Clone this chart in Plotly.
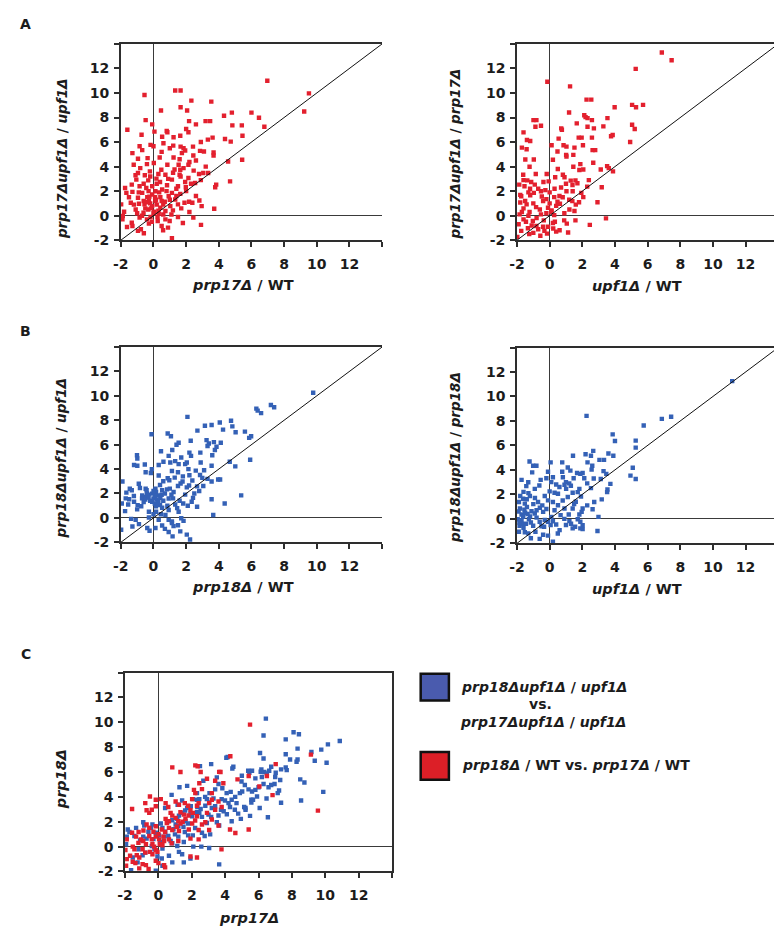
import plotly.graph_objects as go

W, H = 774, 936

# ---------------- data ----------------
# Panel A-left: prp17Δ/WT (x) vs prp17Δupf1Δ/upf1Δ (y)
a1_points = [
(6.97,11.0),(1.33,10.2),(1.66,10.2),(-0.55,9.84),(2.32,9.38),(3.54,9.3),(0.46,8.57),(1.66,8.84),(2.06,8.57),(4.8,8.4),
(6.0,8.4),(4.32,8.14),(6.46,7.98),(-0.48,7.79),(2.18,7.71),(3.19,7.71),(3.47,7.71),(2.6,7.44),(4.83,7.36),(5.41,7.36),
(6.79,7.25),(-0.08,7.44),(-1.6,7.0),(2.0,7.06),(0.81,6.9),(0.85,6.8),(0.06,6.85),(2.14,6.8),(-0.73,6.6),(1.64,6.52),
(5.45,6.52),(1.23,6.39),(0.53,6.44),(3.62,6.36),(4.38,6.25),(4.73,6.04),(3.33,6.2),(0.61,5.9),(-0.18,5.77),(0.0,5.66),
(-0.85,5.66),(1.66,5.63),(1.84,5.5),(2.42,5.63),(1.21,5.71),(-0.69,5.34),(2.85,5.28),(3.09,5.23),(3.68,5.15),(3.68,4.9),
(1.94,5.31),(1.74,5.1),(-1.29,5.1),(0.38,4.74),(1.23,4.74),(2.44,4.9),(-0.36,4.69),(-0.95,4.64),(0.02,4.29),(2.2,4.37),
(4.57,4.42),(5.43,4.56),(0.85,4.15),(1.54,4.15),(1.84,3.88),(2.14,4.15),(-1.21,4.15),(-0.81,3.88),(1.29,3.77),(1.64,3.75),
(2.46,3.67),(0.48,3.75),(-0.22,3.61),(3.05,3.48),(3.35,3.48),(2.79,3.4),(-0.95,3.48),(-0.53,3.29),(0.73,3.34),(1.66,3.2),
(1.6,3.34),(1.13,2.94),(2.14,3.07),(0.18,3.02),(-1.05,2.94),(0.4,2.75),(1.94,2.75),(2.55,2.67),(-0.32,2.88),(-1.33,2.53),
(3.84,2.53),(3.78,2.32),(4.69,2.8),(-0.85,2.4),(0.83,2.48),(1.5,2.4),(1.98,2.32),(-0.44,2.26),(-0.08,2.4),(-1.74,2.26),
(0.53,2.13),(0.12,1.99),(-1.29,1.94),(1.13,1.86),(1.64,1.78),(-0.69,1.86),(-0.08,1.73),(-1.66,1.86),(0.93,1.59),(0.42,1.51),
(-0.38,1.51),(-0.95,1.46),(1.33,1.32),(-0.28,1.24),(0.12,1.19),(0.69,1.13),(1.9,1.05),(2.18,1.13),(2.38,1.05),(2.81,1.24),
(-1.39,1.05),(-1.98,0.92),(-0.89,0.97),(-0.55,0.92),(-0.08,0.78),(1.03,0.78),(2.95,0.78),(1.5,0.92),(0.42,0.65),(-0.32,0.51),
(-1.09,0.51),(3.72,0.57),(0.73,0.38),(1.19,0.43),(0.04,0.32),(-1.8,0.32),(-0.61,0.24),(0.32,0.16),(-1.88,-0.03),(-1.9,-0.3),
(-0.18,-0.11),(1.5,-0.11),(2.44,-0.16),(-0.85,-0.16),(0.73,-0.3),(0.26,-0.43),(-1.33,-0.57),(-0.28,-0.65),(0.99,-0.43),(-1.62,-0.92),
(0.5,-0.84),(-0.77,-1.1),(2.91,-0.75),(0.89,-0.97),(-0.95,-1.24),(-1.29,-0.84),(-0.59,-1.43),(0.59,-1.19),(1.13,-1.83),(9.52,9.97),
(9.23,8.49),(-0.2,1.0),(0.2,0.9),(-0.5,0.6),(0.1,1.5),(-0.3,2.0),(0.3,0.4),(-0.6,1.2),(0.0,0.2),(-0.1,-0.5),
(0.6,0.9),(1.0,1.3),(1.4,2.2),(0.8,2.0),(-1.0,0.2),(-0.4,-0.3),(0.2,2.6),(0.9,3.0),(1.2,3.5),(0.5,5.2),
(-0.4,4.2),(1.0,5.5),(2.6,4.5),(1.6,4.6),(2.9,6.0),(3.2,4.0),(2.0,2.0),(2.6,1.6),(2.2,0.3),(1.8,-0.6),(-1.5,1.5),
(-0.45,1.1),(-0.15,0.6),(0.15,1.3),(-0.25,1.55),(0.35,1.9),(-0.6,2.6),(-0.2,3.2),(0.6,0.1),(1.1,0.1),(-0.9,1.9),
(-1.2,0.9),(0.5,1.2),(0.25,-0.1),(-0.7,0.0),(1.4,1.6),(1.7,0.6),(-1.1,3.3),(0.3,3.4),(2.3,2.6),(2.9,2.9),
]

# Panel A-right: upf1Δ/WT (x) vs prp17Δupf1Δ/prp17Δ (y)
a2_points = [
(6.87,13.3),(7.47,12.67),(5.27,11.97),(-0.14,10.92),(1.25,10.54),(2.26,9.46),(2.55,9.46),(1.19,8.41),(5.05,9.03),(5.29,8.84),
(5.72,9.03),(3.98,8.84),(2.12,8.19),(2.2,8.03),(2.32,7.95),(2.59,7.79),(3.54,7.95),(-0.99,7.79),(-0.81,7.79),(-0.87,7.25),
(-0.53,7.33),(0.71,7.12),(0.75,7.01),(1.66,7.52),(2.32,7.25),(2.71,7.12),(3.29,7.28),(5.05,7.41),(5.21,7.06),(-1.6,6.79),
(3.86,6.58),(3.76,6.47),(0.55,6.28),(1.78,6.36),(1.96,6.36),(2.59,6.36),(4.93,6.01),(-1.39,6.17),(-1.19,6.09),(0.12,5.74),
(0.85,5.74),(1.03,5.63),(1.52,5.55),(2.04,5.74),(2.63,5.34),(2.79,5.34),(-1.7,5.55),(-1.41,5.42),(0.48,5.23),(1.01,4.96),
(1.03,4.82),(1.45,4.96),(-1.49,4.58),(-0.97,4.58),(0.2,4.56),(2.67,4.31),(1.88,4.2),(1.45,3.99),(-1.23,3.99),(2.06,3.77),
(1.82,3.72),(3.52,4.04),(3.62,3.88),(3.88,3.61),(3.13,3.77),(-1.62,3.34),(-0.85,3.4),(0.81,3.34),(0.91,3.13),(0.34,3.13),
(-0.18,3.4),(-1.37,2.88),(-1.13,2.75),(1.29,2.86),(1.58,2.88),(1.7,2.64),(2.3,2.37),(3.19,2.32),(-1.86,2.53),(-1.54,2.4),
(-0.91,2.53),(-0.38,2.75),(-0.53,1.99),(-0.26,2.08),(-0.06,2.8),(1.03,1.99),(1.41,1.99),(1.94,1.86),(2.06,1.51),(-0.97,1.86),
(-1.74,1.59),(-1.19,1.67),(-0.48,1.56),(-0.2,1.35),(0.28,1.51),(0.48,1.13),(0.63,0.97),(1.39,1.19),(2.93,1.1),(-1.8,1.08),
(-1.41,0.92),(-0.83,0.7),(-0.1,0.65),(0.12,0.43),(1.21,0.51),(1.52,0.38),(-1.84,0.11),(-1.23,0.3),(-0.53,0.11),(0.28,0.05),
(-1.6,-0.3),(-1.03,-0.43),(-0.36,-0.38),(0.89,-0.38),(1.05,-0.65),(1.58,-0.38),(0.32,-0.49),(3.45,-0.22),(2.46,-0.75),(-0.81,-0.84),
(-1.33,-1.02),(-1.74,-1.24),(-0.32,-1.24),(-0.16,-1.46),(0.22,-1.05),(0.61,-1.19),(1.13,-1.37),(-0.57,-1.64),(-1.98,-1.73),(-1.5,1.2),
(-1.0,1.0),(-0.6,0.5),(-1.3,0.0),(-0.8,-0.2),(0.0,1.0),(0.3,2.2),(0.6,1.6),(1.0,2.6),(-0.2,0.2),(-1.6,0.6),
(-1.2,2.2),(0.2,-0.6),(0.9,0.2),(-0.4,-0.9),(-1.0,-1.4),(0.5,3.8),(1.2,1.3),(1.8,1.1),(2.4,2.9),
(-1.9,-0.7),(-1.7,0.3),(-1.45,-0.5),(-1.1,-0.8),(-0.7,-1.1),(-0.1,-0.9),(0.1,0.3),(0.4,0.8),(-0.4,1.2),(-1.3,1.9),
(-1.8,1.7),(-0.7,2.2),(0.7,2.3),(1.6,0.9),(0.0,1.9),(-1.6,2.9),(0.4,-1.3),(-1.25,-1.5),(0.8,1.5),(1.4,2.5),
]

# Panel B-left: prp18Δ/WT (x) vs prp18Δupf1Δ/upf1Δ (y)
b1_points = [
(7.19,9.25),(7.39,9.06),(6.3,8.95),(6.38,8.79),(6.59,8.58),(2.08,8.28),(4.75,7.96),(4.83,7.5),(4.06,7.82),(3.56,7.61),
(3.15,7.55),(4.26,7.23),(5.6,7.07),(5.98,6.69),(5.86,6.56),(2.69,7.15),(5.03,7.02),(-0.12,6.85),(0.87,6.91),(1.07,6.69),
(1.54,6.16),(1.41,5.99),(2.28,6.32),(3.25,6.37),(3.39,6.1),(3.31,5.89),(3.7,6.21),(3.86,5.83),(3.76,5.56),(4.12,6.16),
(1.15,5.56),(0.46,5.46),(-1.01,5.13),(-0.99,4.87),(2.2,5.35),(2.3,5.08),(2.87,5.35),(3.6,5.13),(5.92,4.76),(0.93,5.08),
(1.7,4.95),(0.61,4.6),(1.03,4.54),(1.33,4.65),(1.54,4.41),(1.94,4.41),(2.04,4.54),(-1.19,4.33),(-0.99,4.27),(-0.53,4.38),
(0.32,4.33),(2.89,4.54),(4.67,4.6),(5.01,4.22),(3.56,4.27),(2.14,4.0),(1.13,3.84),(1.5,3.74),(2.59,3.87),(-0.1,4.0),
(-0.16,3.68),(-0.48,3.74),(0.32,3.47),(0.87,3.25),(0.97,3.09),(1.78,2.98),(1.66,2.82),(2.85,3.52),(2.99,3.28),(2.38,3.06),
(3.31,3.2),(3.56,2.98),(3.96,3.15),(4.08,3.15),(-1.9,2.98),(1.5,2.61),(2.18,2.66),(2.04,2.5),(2.67,2.58),(3.05,2.61),
(-1.45,2.39),(-1.33,2.26),(-0.83,2.45),(-0.48,2.39),(-0.42,2.26),(0.12,2.39),(0.16,2.12),(0.53,2.26),(0.83,2.34),(-1.66,2.07),
(-0.69,1.85),(-0.59,1.72),(-0.48,1.64),(-0.32,1.91),(-0.08,1.99),(0.28,1.85),(0.42,1.64),(1.23,2.12),(0.93,1.59),(1.94,1.91),
(2.42,1.64),(3.56,1.53),(4.36,1.18),(5.37,1.85),(-1.49,1.53),(-1.19,1.32),(-0.97,1.05),(-1.94,1.18),(-0.08,1.32),(0.08,1.18),
(0.4,1.05),(0.53,0.83),(1.33,1.1),(1.82,1.18),(2.34,1.32),(2.67,0.91),(3.66,0.24),(0.93,0.65),(1.54,0.51),(0.16,0.51),
(-0.28,0.51),(-1.74,0.56),(-1.37,-0.08),(-1.09,-0.16),(-0.28,0.03),(0.93,-0.16),(1.13,-0.3),(1.7,-0.03),(1.84,-0.24),(-1.98,-0.97),
(-1.29,-0.7),(-0.38,-0.83),(-0.24,-1.05),(0.53,-0.62),(1.13,-0.43),(1.23,-0.67),(1.64,-1.1),(0.93,-1.16),(1.17,-1.51),(2.04,-1.37),
(2.24,-1.77),(0.12,-0.83),(-0.89,-0.51),(0.73,0.24),(0.32,-0.16),(9.78,10.25),(-0.7,1.6),(-0.5,1.5),(-0.3,1.7),(-0.2,1.4),
(0.0,1.6),(0.1,1.8),(0.2,1.5),(0.3,1.3),(0.0,2.2),(-0.4,2.0),(0.5,1.9),(0.6,1.4),(0.7,2.0),(1.0,2.4),
(1.2,1.6),(1.6,1.4),(2.8,2.2),(1.8,3.4),(0.6,3.0),(-1.2,1.8),
(-1.55,1.1),(-1.0,0.7),(-0.75,0.95),(-0.6,1.3),(0.15,0.95),(0.45,0.3),(0.85,1.0),(1.1,1.9),(1.45,0.8),(2.1,1.0),
(2.5,2.0),(2.2,3.5),(1.3,3.3),(0.4,2.7),(-0.9,2.8),(-1.7,1.6),(0.0,0.3),(1.5,-0.6),(0.7,-0.9),(3.1,3.9),
]

# Panel B-right: upf1Δ/WT (x) vs prp18Δupf1Δ/prp18Δ (y)
b2_points = [
(6.87,8.17),(5.76,7.63),(2.26,8.41),(3.86,6.9),(4.0,6.36),(5.27,6.39),(5.27,5.82),(2.67,5.55),(2.2,5.28),(1.43,5.15),
(2.53,5.15),(3.6,5.34),(3.9,5.15),(3.05,4.82),(3.33,4.82),(-1.23,4.69),(-1.01,4.34),(-0.81,4.34),(0.06,4.61),(0.77,4.61),
(2.32,4.61),(2.61,4.34),(2.57,4.02),(1.11,4.2),(1.27,3.94),(1.68,3.75),(1.88,3.67),(2.02,3.75),(5.09,4.18),(4.95,3.53),
(5.27,3.26),(3.47,3.67),(-1.07,3.8),(-0.1,3.85),(0.2,3.4),(0.77,3.85),(0.81,3.4),(1.47,3.32),(2.12,3.32),(3.13,3.26),
(3.72,2.86),(-1.72,3.18),(-1.31,2.99),(-1.43,2.67),(-0.55,3.18),(-0.2,3.32),(0.91,2.78),(1.01,2.45),(1.82,2.45),(1.72,2.18),
(2.53,2.51),(3.54,2.4),(3.52,2.18),(-0.91,2.45),(-0.63,2.72),(0.0,2.24),(0.3,2.13),(0.51,2.05),(1.41,2.13),(-1.8,1.86),
(-1.62,1.64),(-1.21,1.86),(-0.3,1.86),(2.73,1.37),(3.19,1.59),(1.11,1.78),(1.92,1.83),(-1.88,1.37),(-1.52,1.24),(-1.39,0.97),
(-0.71,1.37),(-0.1,1.51),(0.2,1.37),(0.51,1.11),(0.91,0.84),(1.41,0.84),(2.02,0.84),(1.96,0.57),(2.63,0.78),(-1.82,0.84),
(-1.11,0.62),(-0.91,0.43),(-0.4,0.57),(-1.72,0.35),(-1.62,0.16),(0.1,0.16),(0.67,0.3),(1.17,0.35),(1.82,0.35),(2.99,0.16),
(-1.96,-0.03),(-1.72,-0.11),(-1.27,-0.03),(-0.61,-0.24),(-0.1,-0.24),(0.06,-0.51),(0.4,-0.46),(1.21,-0.19),(1.31,-0.4),(1.72,-0.03),
(1.88,-0.24),(2.02,-0.51),(-1.84,-0.57),(-1.6,-0.73),(-1.01,-0.57),(-0.34,-0.65),(0.61,-0.92),(1.41,-0.78),(1.56,-0.65),(1.88,-0.78),
(2.02,-0.84),(2.93,-1.0),(-1.88,-1.05),(-1.52,-1.1),(-0.87,-1.05),(-0.1,-1.37),(-0.61,-1.64),(-1.15,-1.59),(0.2,-1.86),(-1.31,-1.19),
(11.18,11.25),(7.44,8.34),(-1.5,0.5),(-1.4,1.6),(-1.0,1.2),(-0.6,0.9),(-0.2,0.8),(0.3,0.7),(-0.8,0.1),(-0.3,-0.1),
(0.2,-0.2),(0.8,1.5),(0.6,2.6),(1.0,3.0),(-1.6,2.2),(-1.2,0.2),(-0.5,-0.6),(1.6,1.4),(2.3,2.9),(0.4,2.8),(1.3,2.7),(-1.7,-0.4),
(-1.9,0.6),(-1.55,0.75),(-1.35,0.4),(-1.85,-0.3),(-1.45,-0.4),(-1.15,-0.3),(-0.8,0.7),(-0.45,1.1),(-1.3,2.1),(-0.9,1.7),
(0.5,-1.2),(1.0,-0.5),(0.9,0.0),(1.5,1.2),(2.3,1.1),(-0.4,-1.3),(1.2,2.9),(0.1,3.0),(2.7,3.3),(3.3,3.9),
]

# Panel C: prp17Δ (x) vs prp18Δ (y)
c_blue_points = [  # prp18Δupf1Δ/upf1Δ vs prp17Δupf1Δ/upf1Δ
(6.44,10.29),(6.3,8.94),(8.1,9.2),(8.42,9.04),(7.63,8.62),(10.87,8.49),(10.16,8.22),(6.09,7.53),(6.3,7.08),(8.34,7.88),
(9.17,7.61),(9.37,6.9),(9.76,7.8),(7.63,7.43),(8.28,6.82),(8.34,7.0),(7.89,7.0),(10.08,6.74),(9.88,4.4),(8.5,5.41),
(8.75,5.15),(8.55,3.71),(6.56,2.36),(5.49,2.47),(7.35,3.53),(7.3,5.36),(7.63,6.37),(7.69,6.15),(6.76,6.42),(7.03,5.94),
(7.35,6.21),(6.35,6.0),(6.5,5.89),(6.64,6.1),(6.13,6.02),(5.61,6.1),(5.45,5.94),(5.81,5.49),(6.17,6.21),(6.96,5.04),
(6.76,4.96),(6.3,5.04),(6.6,4.77),(6.0,4.77),(5.81,4.56),(7.23,4.51),(7.15,4.3),(5.61,4.43),(6.48,3.87),(5.91,4.03),
(5.57,3.77),(5.57,3.55),(5.22,3.1),(4.15,7.21),(2.49,6.47),(3.16,6.63),(4.49,6.42),(5.38,6.1),(1.72,4.88),(1.26,4.77),
(2.69,5.3),(3.5,5.57),(3.6,5.04),(3.83,4.69),(4.98,5.23),(5.18,4.96),(4.33,4.4),(4.09,4.3),(4.88,4.3),(5.02,4.43),
(2.31,4.3),(3.06,4.3),(0.79,4.16),(2.06,3.82),(2.31,3.77),(2.45,3.82),(2.9,3.82),(3.04,3.55),(3.3,3.87),(3.79,3.82),
(3.99,3.71),(4.39,3.77),(4.68,3.5),(5.67,3.77),(1.42,3.71),(1.15,3.37),(0.4,3.1),(1.72,3.1),(1.94,3.24),(2.33,3.18),
(2.53,3.02),(2.81,3.29),(3.2,3.1),(3.4,3.24),(3.75,2.97),(3.91,2.84),(4.29,3.18),(4.58,2.97),(4.78,2.65),(5.14,3.18),
(5.22,2.97),(6.07,3.1),(4.94,2.23),(4.39,2.04),(3.5,1.96),(3.64,1.7),(3.0,2.57),(3.16,2.39),(2.61,2.39),(2.31,2.76),
(2.45,2.71),(1.92,2.65),(2.02,2.44),(1.42,2.71),(1.23,2.49),(1.13,2.23),(1.62,2.04),(1.78,1.86),(1.03,1.78),(1.19,1.64),
(0.83,2.12),(0.53,1.96),(0.14,1.86),(0.24,1.51),(-0.36,1.78),(-0.45,1.51),(-0.91,1.96),(-0.85,1.7),(-1.34,1.51),(-1.84,1.38),
(-1.74,1.17),(-1.44,0.85),(-0.91,0.8),(-0.71,0.64),(-0.16,1.11),(0.04,0.9),(0.34,0.8),(0.59,0.85),(0.99,0.98),(1.19,0.8),
(1.58,1.17),(1.78,0.9),(2.06,0.9),(2.61,1.11),(2.77,0.85),(3.1,0.98),(0.73,0.45),(0.83,0.27),(1.52,0.37),(1.13,0.05),
(2.09,0.0),(2.57,0.0),(3.04,-0.11),(-0.4,0.05),(-0.24,-0.21),(0.24,-0.16),(-1.9,0.8),(-1.94,0.19),(-1.19,-0.21),(-0.95,-0.69),
(-0.79,-0.48),(-0.06,-0.8),(0.2,-0.95),(0.63,-0.74),(1.23,-0.42),(1.42,-0.61),(0.83,-1.27),(1.52,-1.27),(1.92,-0.95),(0.24,-1.54),
(3.64,-1.43),(-1.54,-0.88),(-1.25,-1.27),(-1.64,-1.9),(-0.16,-1.94),(4.07,7.15),(4.43,6.28),
(4.6,4.0),(4.2,3.5),(3.4,4.6),(2.8,4.0),(5.4,4.6),(6.2,5.6),(7.0,5.6),(5.0,5.7),(1.6,2.9),(0.9,1.4),
(0.4,1.2),(-0.6,1.2),(-1.1,0.5),(0.1,0.4),(1.5,1.6),(2.2,1.5),(2.9,1.9),(4.1,2.6),(3.6,2.5),(-0.3,0.6),
]
c_red_points = [  # prp18Δ/WT vs prp17Δ/WT
(5.49,9.81),(9.14,7.4),(7.03,6.63),(5.41,5.68),(6.5,5.68),(6.05,4.83),(6.84,4.14),(9.56,2.89),(5.41,1.38),(0.83,6.37),
(2.21,6.53),(1.32,6.0),(2.53,6.0),(4.31,7.27),(3.72,6.0),(4.74,5.41),(2.91,5.46),(2.45,5.09),(2.13,4.56),(2.21,4.3),
(2.61,4.62),(3.4,5.3),(3.89,5.09),(3.2,4.3),(-0.51,4.03),(-0.79,3.5),(-0.16,3.77),(-1.58,3.02),(-0.71,2.92),(-0.55,2.71),
(-0.4,2.97),(-0.16,3.24),(0.14,3.82),(0.43,3.5),(0.59,3.18),(1.03,3.63),(1.23,3.37),(1.58,3.5),(1.78,3.29),(2.02,3.82),
(2.31,3.29),(2.41,3.5),(3.04,3.5),(3.2,3.77),(3.6,3.63),(0.73,2.71),(0.83,2.49),(1.32,2.76),(1.52,2.57),(1.92,2.92),
(2.06,2.71),(2.31,2.44),(2.91,2.71),(3.4,2.97),(3.79,3.18),(0.43,2.23),(0.63,2.04),(1.03,2.31),(1.19,2.04),(1.32,1.86),
(1.62,2.23),(2.02,1.86),(2.61,1.78),(2.81,1.96),(3.2,2.18),(3.6,1.7),(4.29,1.38),(-0.71,1.78),(-0.55,1.51),(-0.16,1.64),
(0.2,1.38),(0.4,1.17),(0.63,1.51),(0.83,1.33),(1.23,1.25),(1.82,1.38),(2.41,1.33),(3.04,1.33),(-1.19,1.17),(-1.58,1.11),
(-1.34,0.8),(-1.05,0.58),(-0.91,0.45),(-0.55,0.85),(-0.4,0.58),(-0.16,0.8),(0.04,0.58),(0.34,0.45),(-0.36,0.19),(-0.26,0.0),
(-0.75,0.19),(0.08,0.19),(0.24,0.11),(0.63,0.58),(0.79,0.27),(1.19,0.45),(1.92,0.64),(2.41,0.58),(-1.9,0.58),(-1.98,-0.27),
(-1.54,0.0),(-1.44,-0.21),(-0.95,-0.21),(-0.79,-0.48),(-1.3,-0.69),(-1.15,-0.88),(-0.51,-0.42),(-0.36,-0.61),(-1.7,-0.74),(-1.9,-1.01),
(-1.54,-1.22),(-1.38,-1.33),(-0.95,-1.41),(-0.75,-1.49),(-0.16,-1.14),(0.0,-1.33),(0.34,-1.49),(0.4,-1.67),(-0.59,-1.8),(-1.15,-1.75),
(-1.94,-1.54),(-0.16,-0.27),(-0.06,-0.42),(1.92,-0.8),(2.31,-0.88),(3.78,-0.22),(4.61,1.1),(3.64,6.01),(2.35,6.46),
(-0.3,1.2),(0.0,1.0),(0.3,0.8),(0.5,1.9),(1.1,1.6),(1.45,2.0),(1.8,2.5),(2.2,2.1),(-0.9,1.3),(-1.2,0.3),
]

tick_values = [-2, 0, 2, 4, 6, 8, 10, 12, 14]
tick_labels = ["-2", "0", "2", "4", "6", "8", "10", "12", ""]
axis_range = [-2, 14]

# ---------------- styling ----------------
RED = "#e3202e"
BLUE = "#3461b6"
LEG_BLUE = "#4a5bae"
LEG_RED = "#dc1f27"
FONT = "DejaVu Sans"
AXC = "#2e2e2e"


def px(x):
    return x / W


def py(y):
    return 1 - y / H


fig = go.Figure()

panels = [
    dict(l=114, r=378, t=44.3, b=242.3, xend=14, mirror_y=False, diag=True),
    dict(l=514.3, r=774, t=44.3, b=242.3, xend=-2 + (774 - 514.3) / 16.5, mirror_y=False, diag=True),
    dict(l=114, r=378, t=350, b=547, xend=14, mirror_y=False, diag=True),
    dict(l=514.3, r=774, t=350.5, b=548, xend=-2 + (774 - 514.3) / 16.5, mirror_y=False, diag=True),
    dict(l=118.3, r=388, t=678.3, b=879, xend=14, mirror_y=True, diag=False),
]

layout_axes = {}
shapes = []
for i, p in enumerate(panels):
    n = "" if i == 0 else str(i + 1)
    common = dict(
        showline=True, linecolor=AXC, linewidth=1.6,
        ticks="outside", ticklen=5, tickwidth=1.5, tickcolor=AXC,
        tickvals=tick_values, ticktext=tick_labels,
        tickfont=dict(family=FONT, size=14, color="#1c1c1c", weight="bold"),
        showgrid=False, zeroline=True, zerolinecolor="#3a3a3a", zerolinewidth=1.4,
        fixedrange=True,
    )
    layout_axes["xaxis" + n] = dict(
        common, domain=[px(p["l"]), px(p["r"])], range=[axis_range[0], p["xend"]],
        anchor="y" + n, mirror=True, ticklabelstandoff=5,
    )
    layout_axes["yaxis" + n] = dict(
        common, domain=[py(p["b"]), py(p["t"])], range=axis_range,
        anchor="x" + n, mirror=p["mirror_y"], ticklabelstandoff=2,
    )
    if p["diag"]:
        lo = axis_range[0]
        hi = min(axis_range[1], p["xend"])
        shapes.append(dict(type="line", xref="x" + n, yref="y" + n, x0=lo, y0=lo, x1=hi, y1=hi,
                           line=dict(color="#111", width=1)))


def add_scatter(points, color, n):
    xs = [a for a, b in points]
    ys = [b for a, b in points]
    fig.add_trace(go.Scatter(
        x=xs, y=ys, mode="markers", xaxis="x" + n, yaxis="y" + n,
        marker=dict(symbol="square", size=4.4, color=color, line=dict(width=0)),
        showlegend=False, hoverinfo="skip",
    ))


add_scatter(a1_points, RED, "")
add_scatter(a2_points, RED, "2")
add_scatter(b1_points, BLUE, "3")
add_scatter(b2_points, BLUE, "4")
add_scatter(c_blue_points, BLUE, "5")
add_scatter(c_red_points, RED, "5")

# legend squares
shapes.append(dict(type="rect", xref="paper", yref="paper",
                   x0=px(417), x1=px(445.5), y0=py(706.5), y1=py(679.5),
                   fillcolor=LEG_BLUE, line=dict(color="#111", width=2.5)))
shapes.append(dict(type="rect", xref="paper", yref="paper",
                   x0=px(417), x1=px(445.5), y0=py(786.5), y1=py(758.5),
                   fillcolor=LEG_RED, line=dict(color="#111", width=2.5)))

annotations = []


def text(s, x, y, size=14, angle=0, xanchor="center"):
    annotations.append(dict(
        text=s, x=px(x), y=py(y), xref="paper", yref="paper", showarrow=False,
        xanchor=xanchor, yanchor="middle", textangle=angle,
        font=dict(family=FONT, size=size, color="#1c1c1c", weight="bold"),
    ))


text("A", 18, 24, 14)
text("B", 18, 334, 14)
text("C", 18, 660, 14)

text("<i>prp17Δ</i> / WT", 237.5, 287, 14.5)
text("<i>prp17Δupf1Δ</i> / <i>upf1Δ</i>", 54, 160, 13.5, -90)
text("<i>upf1Δ</i> / WT", 636, 288, 14.5)
text("<i>prp17Δupf1Δ</i> / <i>prp17Δ</i>", 451.5, 155, 13.5, -90)
text("<i>prp18Δ</i> / WT", 237.5, 592, 14.5)
text("<i>prp18Δupf1Δ</i> / <i>upf1Δ</i>", 54, 462, 13.5, -90)
text("<i>upf1Δ</i> / WT", 636, 594, 14.5)
text("<i>prp18Δupf1Δ</i> / <i>prp18Δ</i>", 451.5, 461, 13.5, -90)
text("<i>prp17Δ</i>", 243.5, 926, 14.5)
text("<i>prp18Δ</i>", 53.5, 786, 14.5, -90)

text("<i>prp18Δupf1Δ</i> / <i>upf1Δ</i>", 542, 693, 14)
text("vs.", 538, 710, 14)
text("<i>prp17Δupf1Δ</i> / <i>upf1Δ</i>", 541, 728, 14)
text("<i>prp18Δ</i> / WT vs. <i>prp17Δ</i> / WT", 457, 772, 14, xanchor="left")

fig.update_layout(
    width=W, height=H, margin=dict(l=0, r=0, t=0, b=0),
    paper_bgcolor="white", plot_bgcolor="white",
    shapes=shapes, annotations=annotations, showlegend=False,
    **layout_axes,
)

# remove the default 8px page margin so the figure fills the window exactly
fig.write_html(
    "out.html",
    config={"displayModeBar": False},
    post_script="document.body.style.margin='0';document.body.style.overflow='hidden';",
)
